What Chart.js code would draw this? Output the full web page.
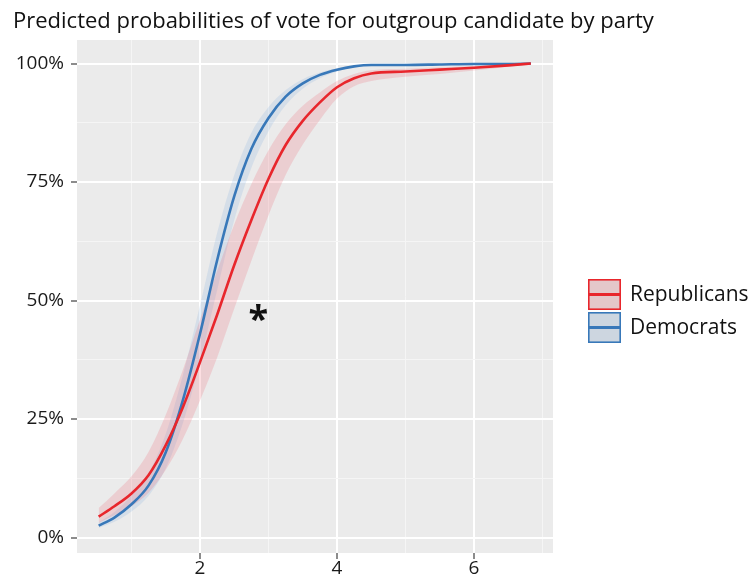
<!DOCTYPE html>
<html>
<head>
<meta charset="utf-8">
<script src="https://cdn.jsdelivr.net/npm/chart.js@4.4.1/dist/chart.umd.min.js"></script>
<style>
  html, body { margin: 0; padding: 0; background: #fff; }
  #wrap { width: 755px; height: 581px; }
</style>
</head>
<body>
<div id="wrap"><canvas id="chart" width="755" height="581"></canvas></div>
<script>
/* ===================== DATA ===================== */
const TITLE = "Predicted probabilities of vote for outgroup candidate by party";
const SERIES_LABELS = ["Republicans", "Democrats"];

const xValues = [0.52, 0.75, 1.0, 1.25, 1.5, 1.75, 2.0, 2.25, 2.5, 2.75, 3.0,
                 3.25, 3.5, 3.75, 4.0, 4.25, 4.5, 5.0, 5.5, 6.0, 6.5, 6.83];

const repMean = [0.044, 0.066, 0.093, 0.132, 0.195, 0.275, 0.37, 0.47, 0.575, 0.67, 0.757,
                 0.828, 0.879, 0.918, 0.95, 0.969, 0.979, 0.983, 0.987, 0.991, 0.996, 1.0];
const repLow  = [0.031, 0.047, 0.066, 0.095, 0.143, 0.208, 0.289, 0.38, 0.483, 0.584, 0.68,
                 0.765, 0.829, 0.881, 0.926, 0.952, 0.963, 0.972, 0.978, 0.985, 0.993, 0.999];
const repHigh = [0.062, 0.093, 0.129, 0.181, 0.259, 0.354, 0.46, 0.562, 0.661, 0.746, 0.817,
                 0.872, 0.911, 0.939, 0.963, 0.978, 0.986, 0.989, 0.992, 0.995, 0.998, 1.0];

const demMean = [0.025, 0.042, 0.07, 0.11, 0.18, 0.29, 0.43, 0.585, 0.72, 0.82, 0.885,
                 0.93, 0.958, 0.976, 0.987, 0.994, 0.997, 0.997, 0.998, 0.999, 0.999, 1.0];
const demLow  = [0.020, 0.033, 0.055, 0.088, 0.146, 0.241, 0.37, 0.522, 0.67, 0.78, 0.857,
                 0.912, 0.947, 0.969, 0.983, 0.992, 0.996, 0.996, 0.997, 0.998, 0.999, 1.0];
const demHigh = [0.032, 0.054, 0.088, 0.136, 0.219, 0.343, 0.49, 0.643, 0.765, 0.854, 0.908,
                 0.944, 0.967, 0.981, 0.990, 0.995, 0.998, 0.998, 0.999, 1.0, 1.0, 1.0];

const xTicks = [2, 4, 6];
const yTicks = [0, 0.25, 0.5, 0.75, 1];
const yTickLabels = ["0%", "25%", "50%", "75%", "100%"];

// significance marker
const STAR_X = 2.85, STAR_Y = 0.474;

/* ===================== STYLE ===================== */
const FONT = '"Open Sans", "DejaVu Sans", sans-serif';
const REP_LINE = "#e8262c";
const DEM_LINE = "#3878b9";
const REP_RIBBON = "rgba(240, 80, 95, 0.18)";
const DEM_RIBBON = "rgba(70, 140, 215, 0.13)";
const PANEL_BG = "#ebebeb";

const xGrid = [1, 2, 3, 4, 5, 6, 7];
const yGrid = [0, 0.125, 0.25, 0.375, 0.5, 0.625, 0.75, 0.875, 1];

function pts(ys) {
  return xValues.map((x, i) => ({ x, y: ys[i] }));
}

function ribbon(data, color, fill) {
  return {
    data: pts(data),
    borderWidth: 0,
    pointRadius: 0,
    backgroundColor: color,
    fill: fill,
    cubicInterpolationMode: "monotone"
  };
}

function meanLine(data, color) {
  return {
    data: pts(data),
    borderColor: color,
    borderWidth: 2.6,
    pointRadius: 0,
    fill: false,
    cubicInterpolationMode: "monotone"
  };
}

/* ===================== PLUGINS ===================== */
const panelPlugin = {
  id: "panel",
  beforeDraw(chart) {
    const { ctx, chartArea: a } = chart;
    ctx.save();
    ctx.fillStyle = PANEL_BG;
    ctx.fillRect(a.left, a.top, a.right - a.left, a.bottom - a.top);
    ctx.restore();
  },
  afterDraw(chart) {
    const { ctx, scales } = chart;
    ctx.save();

    // title
    ctx.fillStyle = "#111";
    ctx.font = "22px " + FONT;
    ctx.textBaseline = "alphabetic";
    ctx.textAlign = "left";
    ctx.fillText(TITLE, 13, 28);

    // asterisk
    ctx.font = "bold 36px " + FONT;
    const m = ctx.measureText("*");
    const sx = scales.x.getPixelForValue(STAR_X);
    const sy = scales.y.getPixelForValue(STAR_Y);
    const h = m.actualBoundingBoxAscent + m.actualBoundingBoxDescent;
    ctx.textAlign = "center";
    ctx.fillText("*", sx, sy - h / 2 + m.actualBoundingBoxAscent);

    // legend
    const keys = [
      { label: SERIES_LABELS[0], line: REP_LINE, fill: REP_RIBBON },
      { label: SERIES_LABELS[1], line: DEM_LINE, fill: DEM_RIBBON }
    ];
    keys.forEach((k, i) => {
      const x = 588, y = 279 + i * 33, w = 33, kh = 31;
      ctx.fillStyle = "#e2e2e2";
      ctx.fillRect(x, y, w, kh);
      ctx.fillStyle = k.fill;
      ctx.fillRect(x, y, w, kh);
      ctx.strokeStyle = k.line;
      ctx.lineWidth = 1.6;
      ctx.strokeRect(x + 0.8, y + 0.8, w - 1.6, kh - 1.6);
      ctx.lineWidth = 3;
      ctx.beginPath();
      ctx.moveTo(x + 1, y + kh / 2);
      ctx.lineTo(x + w - 1, y + kh / 2);
      ctx.stroke();

      ctx.fillStyle = "#111";
      ctx.font = "21px " + FONT;
      ctx.textAlign = "left";
      ctx.textBaseline = "middle";
      ctx.fillText(k.label, 630, y + kh / 2 + 1);
    });
    ctx.restore();
  }
};

/* ===================== CHART ===================== */
const isMajorX = v => xTicks.includes(v);
const isMajorY = v => yTicks.includes(v);

new Chart(document.getElementById("chart"), {
  type: "line",
  data: {
    datasets: [
      ribbon(repLow, "transparent", false),
      ribbon(repHigh, REP_RIBBON, "-1"),
      ribbon(demLow, "transparent", false),
      ribbon(demHigh, DEM_RIBBON, "-1"),
      meanLine(repMean, REP_LINE),
      meanLine(demMean, DEM_LINE)
    ]
  },
  options: {
    responsive: false,
    animation: false,
    devicePixelRatio: 1,
    layout: { padding: { top: 40, right: 202, left: 0, bottom: 0 } },
    plugins: {
      legend: { display: false },
      tooltip: { enabled: false },
      filler: { propagate: false, drawTime: "beforeDatasetsDraw" }
    },
    scales: {
      x: {
        type: "linear",
        min: 0.204,
        max: 7.153,
        afterBuildTicks: s => { s.ticks = xGrid.map(v => ({ value: v })); },
        afterFit: s => { s.height = 28; },
        border: { display: false },
        grid: {
          color: c => isMajorX(c.tick.value) ? "#ffffff" : "#f5f5f5",
          lineWidth: c => isMajorX(c.tick.value) ? 2 : 1,
          tickColor: c => isMajorX(c.tick.value) ? "#666" : "rgba(0,0,0,0)",
          tickLength: 6,
          tickWidth: 1.5
        },
        ticks: {
          autoSkip: false,
          maxRotation: 0,
          padding: -2,
          color: "#1a1a1a",
          font: { family: FONT, size: 19 },
          callback: v => isMajorX(v) ? String(v) : ""
        }
      },
      y: {
        min: -0.0327,
        max: 1.0496,
        afterBuildTicks: s => { s.ticks = yGrid.map(v => ({ value: v })); },
        afterFit: s => { s.width = 77; },
        border: { display: false },
        grid: {
          color: c => isMajorY(c.tick.value) ? "#ffffff" : "#f5f5f5",
          lineWidth: c => isMajorY(c.tick.value) ? 2 : 1,
          tickColor: c => isMajorY(c.tick.value) ? "#666" : "rgba(0,0,0,0)",
          tickLength: 6,
          tickWidth: 1.5
        },
        ticks: {
          autoSkip: false,
          padding: 7,
          color: "#1a1a1a",
          font: { family: FONT, size: 19 },
          callback: v => isMajorY(v) ? yTickLabels[yTicks.indexOf(v)] : ""
        }
      }
    }
  },
  plugins: [panelPlugin]
});
</script>
</body>
</html>
